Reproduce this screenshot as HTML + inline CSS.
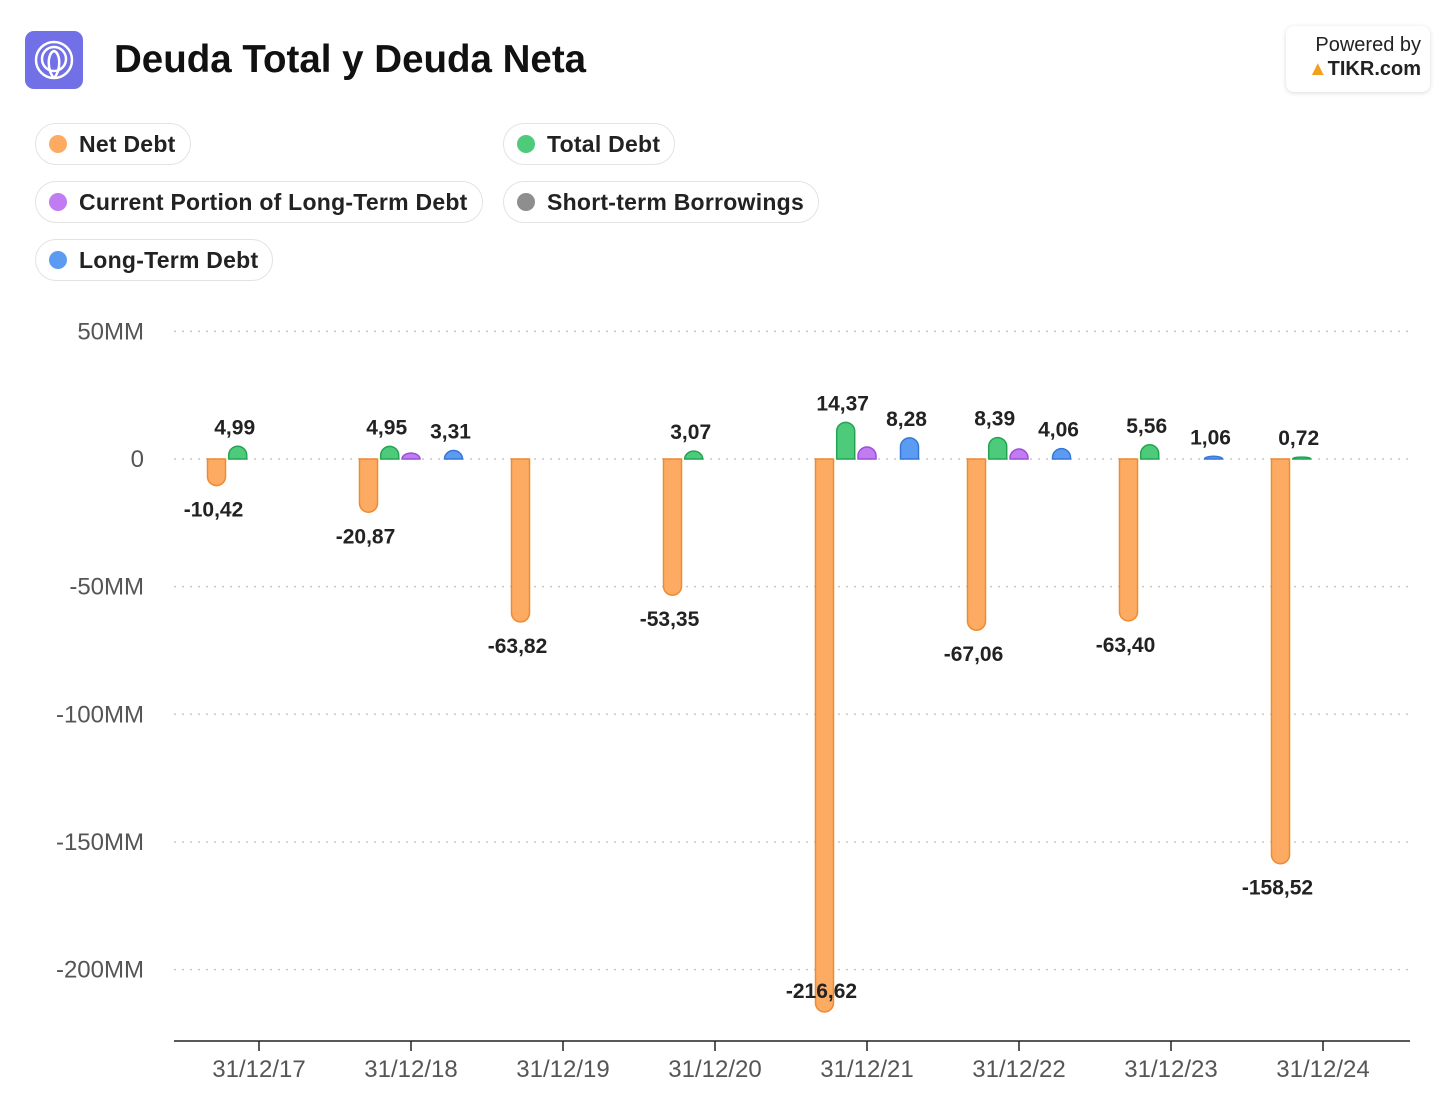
<!DOCTYPE html>
<html><head><meta charset="utf-8"><style>
body{margin:0;background:#fff;font-family:"Liberation Sans",sans-serif;}
#wrap{position:relative;width:1456px;height:1120px;overflow:hidden;}
.pill{position:absolute;height:42px;border:1.5px solid #e3e3e3;border-radius:22px;box-sizing:border-box;font-size:23px;font-weight:bold;color:#222;line-height:40px;padding-left:43px;padding-right:14px;letter-spacing:0.25px;}
.pill i{position:absolute;left:13px;top:11px;width:18px;height:18px;border-radius:50%;}
</style></head><body><div id="wrap">
<div style="position:absolute;left:25px;top:31px;width:58px;height:58px;border-radius:9px;background:#7170e6;">
<svg width="58" height="58"><g fill="none" stroke="#fff" stroke-width="2.5"><circle cx="29" cy="29" r="18"/><circle cx="29" cy="28" r="12"/><path d="M29 47 C22 40 22 22 29 20 C36 22 36 40 29 47"/></g></svg></div>
<div style="position:absolute;left:114px;top:38px;font-size:38.5px;font-weight:bold;color:#111;">Deuda Total y Deuda Neta</div>
<div style="position:absolute;left:1286px;top:26px;width:144px;height:66px;border-radius:8px;box-shadow:0 1px 5px rgba(0,0,0,0.15);text-align:right;box-sizing:border-box;padding-right:9px;">
<div style="font-size:20px;color:#222;margin-top:8px;">Powered by</div>
<div style="font-size:20px;font-weight:bold;color:#222;margin-top:1px;"><span style="color:#f2a11f;">▲</span>TIKR.com</div></div>
<div class="pill" style="left:35px;top:123px;"><i style="background:#fdaa63"></i>Net Debt</div>
<div class="pill" style="left:503px;top:123px;"><i style="background:#4ecb7a"></i>Total Debt</div>
<div class="pill" style="left:35px;top:181px;"><i style="background:#c07cf0"></i>Current Portion of Long-Term Debt</div>
<div class="pill" style="left:503px;top:181px;"><i style="background:#8e8e8e"></i>Short-term Borrowings</div>
<div class="pill" style="left:35px;top:239px;"><i style="background:#5b9cf2"></i>Long-Term Debt</div>
<svg id="chart" width="1456" height="1120" style="position:absolute;left:0;top:0"></svg>
</div>
<script>
const categories=["31/12/17","31/12/18","31/12/19","31/12/20","31/12/21","31/12/22","31/12/23","31/12/24"];
const netDebt=[-10.42,-20.87,-63.82,-53.35,-216.62,-67.06,-63.40,-158.52];
const totalDebt=[4.99,4.95,null,3.07,14.37,8.39,5.56,0.72];
const currentPortion=[null,2.3,null,null,4.7,3.9,null,null];
const shortTerm=[null,null,null,null,null,null,null,null];
const longTermDebt=[null,3.31,null,null,8.28,4.06,1.06,null];
const yTicks=[50,0,-50,-100,-150,-200];
const yTickLabels=["50MM","0","-50MM","-100MM","-150MM","-200MM"];
const svg=document.getElementById('chart');const NS='http://www.w3.org/2000/svg';
function y(v){return 459-v*2.553;}
function x(i){return 259+i*152;}
function mk(t,a){const e=document.createElementNS(NS,t);for(const k in a)e.setAttribute(k,a[k]);svg.appendChild(e);return e;}
yTicks.forEach((t,i)=>{const g=mk('line',{x1:174,x2:1410,y1:y(t),y2:y(t),stroke:'#c8c8c8','stroke-width':1.5,'stroke-dasharray':'2 6'});


const l=mk('text',{x:144,y:y(t)+8,'text-anchor':'end','font-size':24,fill:'#555','font-family':'Liberation Sans'});l.textContent=yTickLabels[i];

});
const ax=mk('line',{x1:174,x2:1410,y1:1041,y2:1041,stroke:'#222','stroke-width':1.5});


categories.forEach((c,i)=>{const t=mk('line',{x1:x(i),x2:x(i),y1:1041,y2:1051,stroke:'#222','stroke-width':1.5});


const l=mk('text',{x:x(i),y:1077,'text-anchor':'middle','font-size':24,fill:'#555','font-family':'Liberation Sans'});l.textContent=c;

});
const series=[[netDebt,-42.5,'#fdaa63','#f08a30',true,'net-debt'],[totalDebt,-21.3,'#4ecb7a','#22a552',true,'total-debt'],[currentPortion,0,'#c07cf0','#9a4fd8',false,'current-portion'],[shortTerm,21.3,'#8e8e8e','#666',false,'short-term'],[longTermDebt,42.5,'#5b9cf2','#3577d8',true,'long-term-debt']];
series.forEach(([vals,off,fill,stroke,lab,name])=>{vals.forEach((v,i)=>{if(v==null)return;
const cx=x(i)+off,hw=9,y0=y(0),y1=y(v),h=Math.abs(y1-y0),r=Math.min(hw,h),s=v>=0?-1:1;
const L=cx-hw,R=cx+hw,tipBase=y1-s*r;
const d=`M${L} ${y0} L${L} ${tipBase} A${hw} ${r} 0 0 ${s<0?1:0} ${R} ${tipBase} L${R} ${y0} Z`;
const p=mk('path',{d:d,fill:fill,stroke:stroke,'stroke-width':1.5});


if(lab){const t=mk('text',{x:cx-3,y:v>=0?y1-12:Math.min(y1+31,998),'text-anchor':'middle','font-size':21,'font-weight':'bold',fill:'#222','font-family':'Liberation Sans'});
t.textContent=v.toFixed(2).replace('.',',');

}
});});
</script></body></html>
